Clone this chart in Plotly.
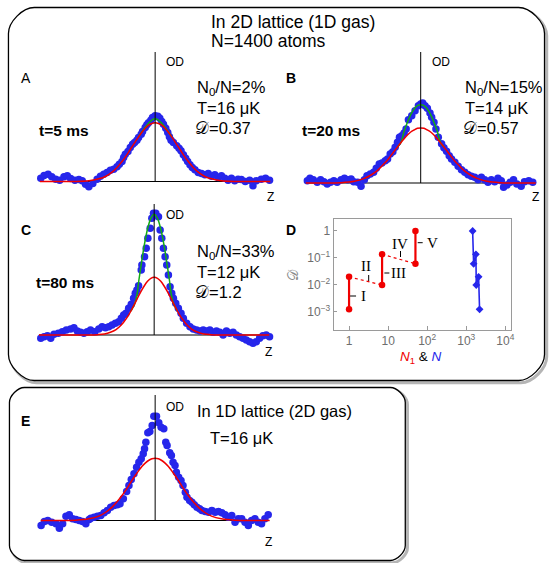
import plotly.graph_objects as go

W, H = 551, 563

# ---------------- data ----------------
# Panel A (t=5 ms)
ZA = [-345,-335,-323,-312,-300,-288,-275,-265,-255,-242,
      -230,-220,-210,-200,-188,-175,-165,-155,-145,-135,
      -125,-115,-108,-100,-95,-90,-82,-75,-68,-62,
      -55,-50,-42,-38,-30,-25,-20,-13,-8,0,
      8,14,20,25,32,38,43,48,55,65,
      72,78,85,92,98,105,112,120,130,140,
      150,160,170,180,190,200,210,220,230,240,
      250,260,272,285,295,305,320,333,345]
ODA = [10,18,22,14,7,4,14,17,9,4,
       6,2,-8,-16,-6,7,16,22,27,34,
       37,44,52,60,72,82,90,102,112,117,
       124,132,142,150,162,170,176,184,192,197,
       196,190,180,172,160,147,134,124,117,107,
       100,92,80,70,60,50,42,35,27,24,
       20,24,16,20,12,17,10,4,10,2,
       7,6,0,4,-13,2,7,10,4]

# Panel B (t=20 ms)
ZB = [-342,-334,-324,-312,-302,-292,-282,-272,-262,-252,
      -240,-230,-220,-210,-202,-190,-180,-170,-162,-152,
      -142,-134,-125,-117,-107,-100,-92,-84,-77,-70,
      -64,-57,-50,-44,-37,-27,-17,-7,0,6,
      13,20,28,33,40,46,53,63,70,78,
      86,93,103,113,123,133,143,153,163,173,
      183,193,203,213,223,233,243,250,260,270,
      280,290,303,313,326,338,348]
ODB = [7,14,10,2,10,4,-3,2,7,2,
       10,14,10,12,4,2,-10,10,22,27,
       32,44,57,60,67,72,87,94,107,122,
       137,142,150,162,190,202,217,232,237,240,
       232,224,210,197,182,162,137,118,106,95,
       82,72,62,50,40,32,25,20,17,10,
       17,10,2,10,4,14,7,-13,-6,2,
       10,-3,-10,4,7,2,-3]

# Panel C (t=80 ms)
ZC = [-342,-332,-322,-312,-302,-289,-277,-265,-252,-242,
      -232,-222,-212,-202,-192,-179,-167,-157,-147,-137,
      -127,-117,-107,-99,-92,-85,-77,-69,-62,-57,
      -52,-47,-39,-37,-29,-24,-19,-12,-7,-2,
      5,13,18,23,28,33,38,43,48,53,
      58,65,73,81,88,98,108,118,128,138,
      148,158,168,178,188,198,208,218,228,238,
      248,258,268,278,288,298,308,318,328,338,348]
ODC = [-10,-5,-2,-10,2,5,10,15,18,22,
       12,8,5,10,15,10,18,25,22,25,
       30,35,40,50,60,65,80,92,110,125,
       135,148,195,210,235,260,290,320,350,365,
       365,355,315,290,260,235,210,180,145,125,
       110,95,80,65,50,35,25,18,15,12,
       15,12,15,8,12,8,0,12,5,8,
       0,-5,-10,-15,-20,-25,-20,-10,-2,0,-5]

# Panel E (1D lattice, 2D gas)
ZE = [-344,-334,-324,-312,-299,-289,-279,-269,-259,-249,
      -239,-229,-219,-209,-199,-194,-184,-174,-164,-154,
      -144,-134,-124,-114,-106,-96,-86,-79,-72,-64,
      -56,-49,-42,-36,-32,-28,-22,-16,-9,-4,
      4,11,18,26,32,36,44,49,54,60,
      64,71,78,84,91,96,104,111,118,126,
      134,141,151,161,171,181,191,201,211,221,
      231,241,251,261,271,281,291,301,311,321,331,341]
ODE = [-15,-3,0,-5,-10,-23,-10,13,17,5,
       3,0,-3,-10,3,7,10,13,15,23,
       30,40,45,47,50,65,87,105,123,140,
       160,175,185,200,215,235,263,267,285,313,
       313,293,280,275,235,225,203,195,175,165,
       145,130,120,105,85,70,60,55,47,40,
       35,30,27,25,30,25,27,23,17,10,
       15,-5,5,5,-5,-15,0,5,-5,-10,5,17]

# thermal fits (red), sampled along z
FIT_Z = [-348,-300,-240,-200,-170,-150,-130,-115,-100,-90,-80,-70,-60,-50,-40,-30,-20,-10,
         0,10,20,30,40,50,60,70,80,90,100,115,130,150,170,200,240,300,348]
RED_A = [0,0,0,2,8,15,28,42,60,73,88,104,119,134,148,160,169,174,
         176,174,169,160,148,134,119,104,88,73,60,42,28,15,8,2,0,0,0]
RED_B = [0,0,1,5,14,24,38,53,69,82,95,108,121,133,144,153,159,164,
         165,164,159,153,144,133,121,108,95,82,69,53,38,24,14,5,1,0,0]
RED_C = [0,0,0,0,1,3,9,16,29,41,55,72,91,111,130,147,161,170,
         173,170,161,147,130,111,91,72,55,41,29,16,9,3,1,0,0,0,0]
RED_E = [0,0,1,5,13,24,40,56,75,89,104,120,135,149,162,172,180,185,
         187,185,180,172,162,149,135,120,104,89,75,56,40,24,13,5,1,0,0]

# bimodal fits (green), central part
GZ_A = [-50,-40,-30,-20,-10,0,10,20,30,40,50]
GRN_A = [134,149,163,175,184,188,184,175,163,149,134]
GZ_B = [-70,-60,-50,-40,-30,-20,-10,0,10,20,30,40,50,60,70]
GRN_B = [108,121,155,182,205,222,232,235,232,222,205,182,155,121,108]
GZ_C = [-70,-58,-52,-46,-40,-30,-20,-10,0,10,20,30,40,46,52,58,70]
GRN_C = [72,95,120,165,205,268,318,350,362,350,318,268,205,165,120,95,72]

# Panel D
N1_RED = [1, 1, 7, 7, 50, 50]
D_RED = [0.00126, 0.02, 0.01, 0.137, 0.061, 1.0]
N_BLUE = [1455, 1542, 1766, 1800, 2070, 2190]
D_BLUE = [1.0, 0.061, 0.137, 0.01, 0.02, 0.00126]
D_XTICKS = [1, 10, 100, 1000, 10000]
D_XTEXT = ["1", "10", "10<sup>2</sup>", "10<sup>3</sup>", "10<sup>4</sup>"]
D_YTICKS = [0.001, 0.01, 0.1, 1]
D_YTEXT = ["10<sup>−3</sup>", "10<sup>−2</sup>", "10<sup>−1</sup>", "1"]

# ---------------- helpers ----------------
def X(p): return p / W
def Y(p): return 1 - p / H

SANS = "Liberation Sans, Arial, sans-serif"
SERIF = "Liberation Serif, Times New Roman, serif"
BLUE = "rgb(38,38,235)"
RED = "rgb(240,0,0)"
GREEN = "rgb(20,170,20)"
SCRIPT_D = "𝒟"

fig = go.Figure()
layout = dict(width=W, height=H, margin=dict(l=0, r=0, t=0, b=0),
              paper_bgcolor="white", plot_bgcolor="rgba(0,0,0,0)",
              showlegend=False, hovermode=False)
shapes = []
anns = []

def ann(text, x, y, size, anchor="left", bold=False, color="black", family=SANS, angle=0):
    if bold:
        text = "<b>" + text + "</b>"
    anns.append(dict(text=text, x=X(x), y=Y(y), xref="paper", yref="paper",
                     xanchor=anchor, yanchor="middle", showarrow=False,
                     textangle=angle, borderpad=0,
                     font=dict(size=size, color=color, family=family)))

def rrect(x0, y0, x1, y1, r):
    k = 0.45 * r
    p = f"M {X(x0+r)},{Y(y0)} L {X(x1-r)},{Y(y0)} "
    p += f"C {X(x1-r+k)},{Y(y0)} {X(x1)},{Y(y0+r-k)} {X(x1)},{Y(y0+r)} "
    p += f"L {X(x1)},{Y(y1-r)} "
    p += f"C {X(x1)},{Y(y1-r+k)} {X(x1-r+k)},{Y(y1)} {X(x1-r)},{Y(y1)} "
    p += f"L {X(x0+r)},{Y(y1)} "
    p += f"C {X(x0+r-k)},{Y(y1)} {X(x0)},{Y(y1-r+k)} {X(x0)},{Y(y1-r)} "
    p += f"L {X(x0)},{Y(y0+r)} "
    p += f"C {X(x0)},{Y(y0+r-k)} {X(x0+r-k)},{Y(y0)} {X(x0+r)},{Y(y0)} Z"
    return p

# boxes with shadows
for (x0, y0, x1, y1, r) in [(8.5, 7.5, 547.5, 380.5, 26), (9.5, 387.5, 407.5, 560.5, 15)]:
    shapes.append(dict(type="path", path=rrect(x0+2.2, y0+2.2, x1+2.2, y1+2.2, r),
                       xref="paper", yref="paper", line=dict(color="rgba(90,90,90,0.45)", width=3),
                       layer="below"))
    shapes.append(dict(type="path", path=rrect(x0, y0, x1, y1, r),
                       xref="paper", yref="paper", line=dict(color="black", width=1.3),
                       fillcolor="white", layer="below"))

# profile panels
panels = [
    # idx, center_px, baseline_px, top_px, halfwidth(units), z, od, red, green_z, green
    (1, 156, 181.5, 52, 348, ZA, ODA, RED_A, GZ_A, GRN_A),
    (2, 423, 183, 52, 347, ZB, ODB, RED_B, GZ_B, GRN_B),
    (3, 155, 335, 204, 348, ZC, ODC, RED_C, GZ_C, GRN_C),
    (4, 156, 520.5, 395, 345, ZE, ODE, RED_E, None, None),
]
for (i, cx, base, top, R, z, od, red, gz, grn) in panels:
    xa = "x" if i == 1 else f"x{i}"
    ya = "y" if i == 1 else f"y{i}"
    xk = "xaxis" if i == 1 else f"xaxis{i}"
    yk = "yaxis" if i == 1 else f"yaxis{i}"
    ytop = (base - top) * 3
    layout[xk] = dict(domain=[X(cx - R / 3), X(cx + R / 3)], range=[-R, R],
                      visible=False, anchor=ya, fixedrange=True)
    layout[yk] = dict(domain=[Y(base + 14), Y(top)], range=[-42, ytop],
                      visible=False, anchor=xa, fixedrange=True)
    shapes.append(dict(type="line", xref=xa, yref=ya, x0=-R, x1=R, y0=0, y1=0,
                       line=dict(color="black", width=1.2), layer="below"))
    fig.add_trace(go.Scatter(x=z, y=od, mode="markers", xaxis=xa, yaxis=ya,
                             cliponaxis=False,
                             marker=dict(size=7.5, color=BLUE, line=dict(width=0))))
    if gz is not None:
        fig.add_trace(go.Scatter(x=gz, y=grn, mode="lines", xaxis=xa, yaxis=ya,
                                 line=dict(color=GREEN, width=1.5, shape="spline", smoothing=0.9)))
    fig.add_trace(go.Scatter(x=FIT_Z, y=red, mode="lines", xaxis=xa, yaxis=ya,
                             line=dict(color=RED, width=1.5, shape="spline", smoothing=0.9)))
    shapes.append(dict(type="line", xref=xa, yref=ya, x0=0, x1=0, y0=0, y1=ytop,
                       line=dict(color="black", width=1), layer="above"))

# panel D
layout["xaxis5"] = dict(domain=[X(335.5), X(514)], type="log", range=[-0.394, 4.15],
                        anchor="y5", showline=True, mirror=True, linecolor="#9a9a9a",
                        linewidth=1, ticks="inside", ticklen=4, tickcolor="#9a9a9a",
                        tickvals=D_XTICKS, ticktext=D_XTEXT, showgrid=False, zeroline=False,
                        tickfont=dict(size=12, color="#6e6e6e", family=SANS), fixedrange=True)
layout["yaxis5"] = dict(domain=[Y(330), Y(219)], type="log", range=[-3.667, 0.444],
                        anchor="x5", showline=True, mirror=True, linecolor="#9a9a9a",
                        linewidth=1, ticks="inside", ticklen=3, tickcolor="#9a9a9a",
                        tickvals=D_YTICKS, ticktext=D_YTEXT, showgrid=False, zeroline=False,
                        tickfont=dict(size=12, color="#6e6e6e", family=SANS), fixedrange=True)
shapes.append(dict(type="line", xref="x5 domain", yref="y5", x0=0, x1=1, y0=0, y1=0,
                   line=dict(color="black", width=1.2, dash="dash"), layer="below"))

sx, sy, dx, dy = [], [], [], []
for k in range(0, len(N1_RED), 2):
    sx += [N1_RED[k], N1_RED[k + 1], None]
    sy += [D_RED[k], D_RED[k + 1], None]
for k in range(1, len(N1_RED) - 1, 2):
    dx += [N1_RED[k], N1_RED[k + 1], None]
    dy += [D_RED[k], D_RED[k + 1], None]
fig.add_trace(go.Scatter(x=dx, y=dy, mode="lines", xaxis="x5", yaxis="y5",
                         line=dict(color=RED, width=1.2, dash="dot")))
fig.add_trace(go.Scatter(x=sx, y=sy, mode="lines", xaxis="x5", yaxis="y5",
                         line=dict(color=RED, width=2.2)))
fig.add_trace(go.Scatter(x=N1_RED, y=D_RED, mode="markers", xaxis="x5", yaxis="y5",
                         cliponaxis=False, marker=dict(color=RED, size=6.5)))
fig.add_trace(go.Scatter(x=N_BLUE, y=D_BLUE, mode="lines+markers", xaxis="x5", yaxis="y5",
                         cliponaxis=False, line=dict(color=BLUE, width=1.6),
                         marker=dict(color=BLUE, size=6, symbol="diamond")))

# roman numeral labels with small connector marks
for (x0, y0, x1, y1) in [(352, 296, 358, 296), (386.5, 273, 391.5, 273), (420, 242.7, 425, 242.7),
                         (370.7, 275, 370.7, 281), (402.7, 251, 402.7, 257)]:
    shapes.append(dict(type="line", xref="paper", yref="paper", x0=X(x0), x1=X(x1),
                       y0=Y(y0), y1=Y(y1), line=dict(color="black", width=1)))
ann("I", 365, 296, 15, anchor="center", family=SERIF)
ann("II", 368.3, 266.3, 15, anchor="center", family=SERIF)
ann("III", 392, 273, 15, anchor="left", family=SERIF)
ann("IV", 402.5, 243.7, 15, anchor="center", family=SERIF)
ann("V", 435, 242.7, 15, anchor="center", family=SERIF)
ann("<span style='color:rgb(240,0,0)'><i>N</i><sub>1</sub></span> &amp; "
    "<span style='color:rgb(38,38,235)'><i>N</i></span>", 423, 358, 13.5, anchor="center")
ann(SCRIPT_D, 295, 275, 14, anchor="center", color="#8a8a8a", family=SERIF, angle=-90)

# titles and labels
ann("In 2D lattice (1D gas)", 211, 21.5, 17.5)
ann("N=1400 atoms", 211, 40.5, 17.5)

ann("A", 26, 78, 14, anchor="center")
ann("B", 293, 78, 14, anchor="center", bold=True)
ann("C", 26, 230, 14, anchor="center", bold=True)
ann("D", 293, 230, 14, anchor="center", bold=True)
ann("E", 26, 421, 14, anchor="center", bold=True)

for (x, y) in [(166, 62), (433, 62), (166, 215), (166, 407)]:
    ann("OD", x, y, 12)
for (x, y) in [(272, 197), (538, 197), (270, 352), (270, 542)]:
    ann("Z", x, y, 12, anchor="center")

ann("t=5 ms", 38, 130, 15.5, bold=True)
ann("t=20 ms", 303, 130, 15.5, bold=True)
ann("t=80 ms", 35, 283, 15.5, bold=True)

ann("N<sub>0</sub>/N=2%", 197, 88, 16.5)
ann("T=16 μK", 197, 108, 16.5)
ann(SCRIPT_D + "=0.37", 195, 128, 16.5)
ann("N<sub>0</sub>/N=15%", 467, 88, 16.5)
ann("T=14 μK", 467, 108, 16.5)
ann(SCRIPT_D + "=0.57", 465, 128, 16.5)
ann("N<sub>0</sub>/N=33%", 197, 252, 16.5)
ann("T=12 μK", 197, 272, 16.5)
ann(SCRIPT_D + "=1.2", 195, 292, 16.5)

ann("In 1D lattice (2D gas)", 197, 411, 16.5)
ann("T=16 μK", 210, 438, 16.5)

layout["shapes"] = shapes
layout["annotations"] = anns
fig.update_layout(**layout)
fig.write_html("out.html", config={"displayModeBar": False, "staticPlot": True},
               post_script="document.body.style.margin='0px';document.body.style.overflow='hidden';")
